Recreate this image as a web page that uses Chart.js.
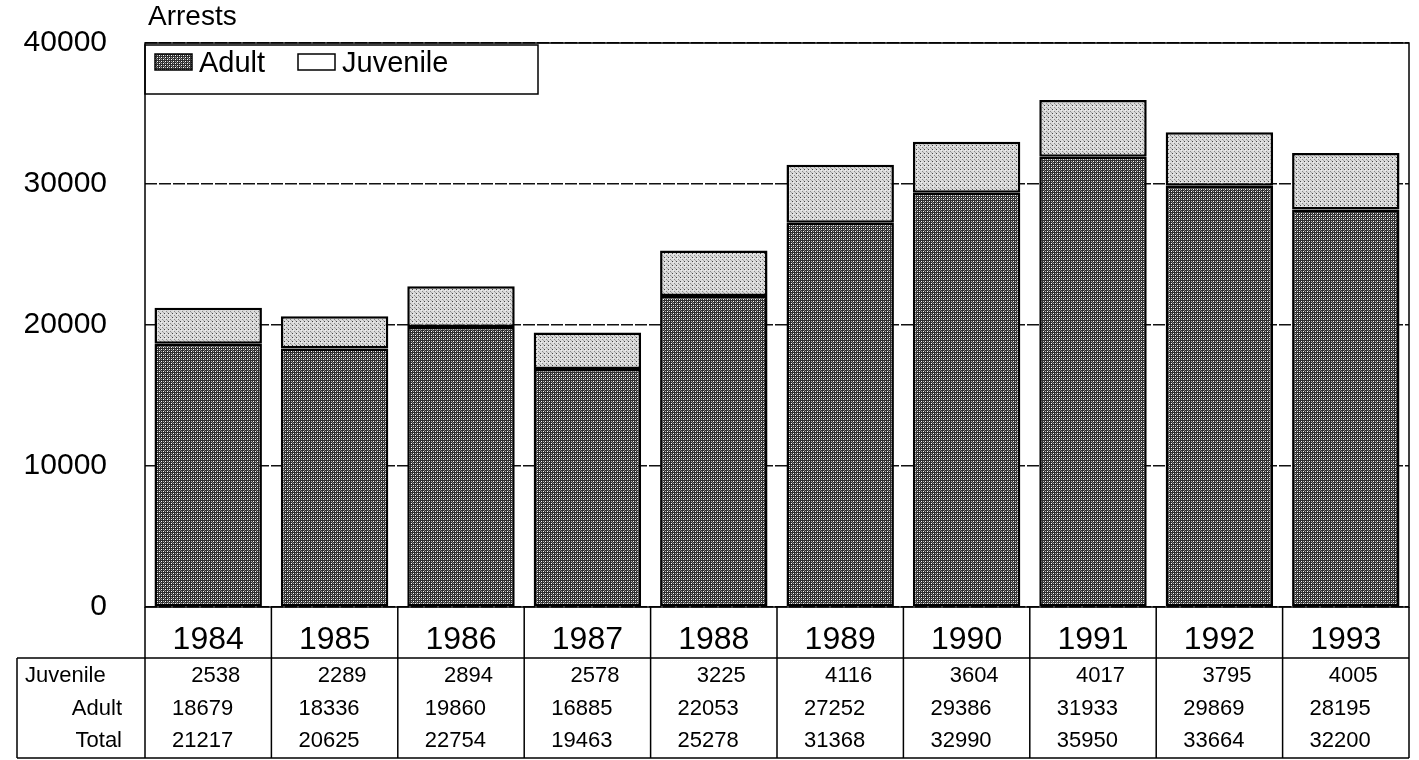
<!DOCTYPE html>
<html>
<head>
<meta charset="utf-8">
<script src="https://cdn.jsdelivr.net/npm/chart.js@4/dist/chart.umd.min.js"></script>
<style>
  html, body { margin: 0; padding: 0; background: #fff; }
  #wrap { width: 1419px; height: 760px; }
</style>
</head>
<body>
<div id="wrap"><canvas id="arrests"></canvas></div>
<script>
const years = ['1984', '1985', '1986', '1987', '1988', '1989', '1990', '1991', '1992', '1993'];
const juvenile = [2538, 2289, 2894, 2578, 3225, 4116, 3604, 4017, 3795, 4005];
const adult = [18679, 18336, 19860, 16885, 22053, 27252, 29386, 31933, 29869, 28195];
const total = [21217, 20625, 22754, 19463, 25278, 31368, 32990, 35950, 33664, 32200];
const yTicks = [0, 10000, 20000, 30000, 40000];

// stipple fills like the scanned print
function makePattern(bg, dots){
    let c = document.createElement('canvas')
    c.width = 4; c.height = 4
    let g = c.getContext('2d')
    g.fillStyle = bg
    g.fillRect(0, 0, 4, 4)
    dots.forEach(d => { g.fillStyle = d[2]; g.fillRect(d[0], d[1], 1, 1) })
    return g.createPattern(c, 'repeat')
}
const adultFill = makePattern('#2e2e2e', [[1,1,'#fff'],[3,3,'#fff'],[1,3,'#aaa'],[3,1,'#aaa'],[0,2,'#777']]);
const juvFill = makePattern('#dadada', [[0,1,'#444'],[2,3,'#888'],[3,0,'#aaa'],[1,2,'#eee']]);
const FONT = 'Arial, "Liberation Sans", sans-serif';

const tablePlugin = {
  id: 'tablePlugin',
  afterDraw(chart){
    const ctx = chart.ctx
    const a = chart.chartArea
    const x = chart.scales.x
    const half = (x.getPixelForValue(1) - x.getPixelForValue(0)) / 2
    ctx.save()
    ctx.strokeStyle = '#000'
    ctx.lineWidth = 1.5

    // plot frame
    ctx.strokeRect(a.left, a.top, a.right - a.left, a.bottom - a.top)

    // title
    ctx.fillStyle = '#000'
    ctx.font = '28px ' + FONT
    ctx.textBaseline = 'middle'
    ctx.textAlign = 'left'
    ctx.fillText('Arrests', a.left + 3, 17)

    // legend box inside the plot
    ctx.strokeRect(a.left, a.top + 2, 393, 49)
    ctx.font = '29px ' + FONT
    const items = [{ds: chart.data.datasets[0], fill: adultFill, x: a.left + 10},
                   {ds: chart.data.datasets[1], fill: '#fff', x: a.left + 153}]
    items.forEach(it => {
      ctx.fillStyle = it.fill
      ctx.fillRect(it.x, a.top + 11, 37, 16)
      ctx.strokeRect(it.x, a.top + 11, 37, 16)
      ctx.fillStyle = '#000'
      ctx.fillText(it.ds.label, it.x + 44, a.top + 21)
    })

    // data table under the axis
    const top = a.bottom
    const mid = a.bottom + 51
    const bot = chart.height - 2
    const labLeft = 17
    ctx.beginPath()
    for (let i = 0; i <= years.length; i++){
      const px = x.getPixelForValue(i) - half
      ctx.moveTo(px, top); ctx.lineTo(px, bot)
    }
    ctx.moveTo(labLeft, mid); ctx.lineTo(a.right, mid)
    ctx.moveTo(labLeft, bot); ctx.lineTo(a.right, bot)
    ctx.moveTo(labLeft, mid); ctx.lineTo(labLeft, bot)
    ctx.stroke()

    const rows = [
      {name: 'Juvenile', vals: juvenile, y: top + 69, off: 32},
      {name: 'Adult', vals: adult, y: top + 102, off: 25},
      {name: 'Total', vals: total, y: top + 134, off: 25}
    ]
    ctx.font = '22px ' + FONT
    rows.forEach((r, k) => {
      if (k === 0){ ctx.textAlign = 'left'; ctx.fillText(r.name, 25, r.y) }
      else { ctx.textAlign = 'right'; ctx.fillText(r.name, 122, r.y) }
      ctx.textAlign = 'right'
      r.vals.forEach((v, i) => ctx.fillText(String(v), x.getPixelForValue(i) + r.off, r.y))
    })
    ctx.restore()
  }
}

const data = {
  labels: years,
  datasets: [{
    label: 'Adult',
    data: adult,
    backgroundColor: adultFill,
    borderColor: '#000',
    borderWidth: 2.5,
    borderSkipped: false
  }, {
    label: 'Juvenile',
    data: juvenile,
    backgroundColor: juvFill,
    borderColor: '#000',
    borderWidth: 2.5,
    borderSkipped: false
  }]
};

const config = {
  type: 'bar',
  data: data,
  options: {
    responsive: true,
    maintainAspectRatio: false,
    animation: false,
    layout: { padding: { top: 43, right: 10, bottom: 2, left: 0 } },
    datasets: { bar: { barPercentage: 0.85, categoryPercentage: 1 } },
    plugins: { legend: { display: false }, title: { display: false }, tooltip: { enabled: false } },
    scales: {
      x: {
        stacked: true,
        afterFit: s => { s.height = 151; s.paddingLeft = 0; s.paddingRight = 0 },
        grid: { display: false, drawTicks: false },
        border: { display: false },
        ticks: { color: '#000', padding: 14, font: { size: 32, family: FONT } }
      },
      y: {
        stacked: true,
        min: 0,
        max: 40000,
        afterFit: s => { s.width = 145; s.paddingTop = 0; s.paddingBottom = 0 },
        afterBuildTicks: s => { s.ticks = yTicks.map(v => ({ value: v })) },
        grid: { color: '#111', lineWidth: 1.5, drawTicks: false },
        border: { display: false, dash: [12, 2] },
        ticks: { color: '#000', padding: 38, font: { size: 30, family: FONT }, callback: v => String(v) }
      }
    }
  },
  plugins: [tablePlugin]
};

new Chart(document.getElementById('arrests').getContext('2d'), config)
</script>
</body>
</html>
